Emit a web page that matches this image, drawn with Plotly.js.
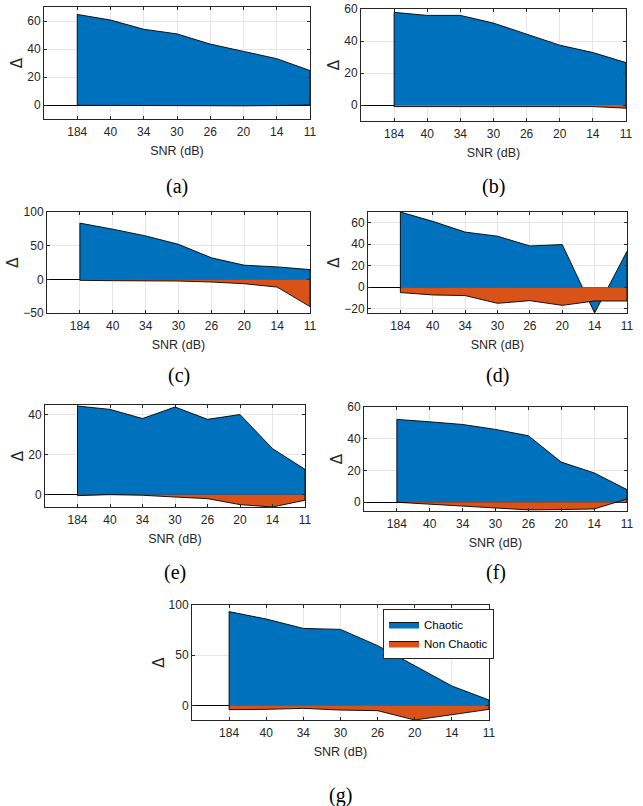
<!DOCTYPE html>
<html>
<head>
<meta charset="utf-8">
<script src="https://cdn.plot.ly/plotly-3.0.1.min.js"></script>
<style>html,body{margin:0;padding:0;background:#fff;}#chart{width:643px;height:806px;}</style>
</head>
<body>
<div id="chart"></div>
<script>
// ---- data ----
var snrLabels = ['184', '40', '34', '30', '26', '20', '14', '11'];
var seriesNames = ['Chaotic', 'Non Chaotic'];
var panelLabels = ['(a)', '(b)', '(c)', '(d)', '(e)', '(f)', '(g)'];

var chaoticA    = [64.7, 60.7, 54.1, 50.8, 43.5, 38.3, 33.1, 24.6];
var nonChaoticA = [-0.2, -0.3, -0.5, -0.7, -0.9, -0.6, -0.4, -0.2];
var chaoticB    = [57.9, 56.0, 56.0, 51.2, 44.5, 37.4, 32.8, 26.5];
var nonChaoticB = [-1.0, -1.0, -1.0, -1.0, -1.0, -1.0, -1.0, -2.0];
var chaoticC    = [83.5, 74.5, 64.5, 52.0, 32.0, 21.0, 18.5, 14.5];
var nonChaoticC = [-1.5, -2.0, -2.0, -2.5, -4.0, -6.5, -11.5, -40.5];
var chaoticD    = [70.0, 61.3, 51.3, 47.5, 38.4, 39.7, -24.0, 33.4];
var nonChaoticD = [-5.0, -7.2, -7.8, -15.0, -12.5, -16.9, -12.8, -12.8];
var chaoticE    = [44.5, 42.8, 38.2, 44.0, 37.8, 40.2, 23.1, 12.7];
var nonChaoticE = [-0.5, 0.0, -0.3, -1.2, -2.0, -5.0, -6.2, -2.8];
var chaoticF    = [52.2, 50.7, 49.0, 45.9, 41.9, 25.3, 18.5, 8.0];
var nonChaoticF = [0.0, -1.2, -2.7, -4.0, -4.8, -4.6, -4.2, 2.1];
var chaoticG    = [93.4, 86.0, 76.7, 75.7, 59.5, 39.5, 19.3, 5.3];
var nonChaoticG = [-4.3, -4.0, -3.0, -4.7, -5.3, -14.6, -9.3, -4.0];

var chaoticAll = [chaoticA, chaoticB, chaoticC, chaoticD, chaoticE, chaoticF, chaoticG];
var nonChaoticAll = [nonChaoticA, nonChaoticB, nonChaoticC, nonChaoticD, nonChaoticE, nonChaoticF, nonChaoticG];

// ---- layout (pixel boxes: left, right, top, bottom) ----
var W = 643, H = 806;
var boxes = [
  [44, 310, 7, 119], [361, 626, 9, 121],
  [47, 310, 212, 313], [368, 627, 212, 313],
  [45, 305, 405, 507], [364, 627, 407, 511],
  [192, 489, 605, 720]
];
var yRanges = [[-10, 70], [-10, 60], [-50, 100], [-24, 70], [-6.2, 45], [-5.5, 60], [-14.6, 100]];
var yTicks = [[0, 20, 40, 60], [0, 20, 40, 60], [-50, 0, 50, 100], [-20, 0, 20, 40, 60], [0, 20, 40], [0, 20, 40, 60], [0, 50, 100]];
var captionY = [186, 186, 376, 376, 572, 572, 795];

var colors = ['#0072BD', '#D95319'];
var tickFont = {family: 'Liberation Sans, Arial, sans-serif', size: 12, color: '#262626'};

var xIdx = snrLabels.map(function (d, i) { return i + 1; });
function poly(vals) {
  return {
    x: [xIdx[0]].concat(xIdx, [xIdx[xIdx.length - 1]]),
    y: [0].concat(vals, [0])
  };
}

var traces = [];
var layout = {
  width: W, height: H,
  margin: {l: 0, r: 0, t: 0, b: 0},
  paper_bgcolor: '#ffffff', plot_bgcolor: '#ffffff',
  showlegend: true,
  legend: {
    x: 383 / W, y: 1 - 609 / H, xanchor: 'left', yanchor: 'top',
    bgcolor: '#ffffff', bordercolor: '#262626', borderwidth: 1,
    font: {family: 'Liberation Sans, Arial, sans-serif', size: 11.5, color: '#000'},
    tracegroupgap: 0, itemwidth: 30
  },
  annotations: []
};

for (var p = 0; p < 7; p++) {
  var sfx = p === 0 ? '' : String(p + 1);
  var b = boxes[p];
  var series = [chaoticAll[p], nonChaoticAll[p]];
  for (var s = 0; s < 2; s++) {
    var pg = poly(series[s]);
    traces.push({
      type: 'scatter', mode: 'lines',
      x: pg.x, y: pg.y,
      fill: 'toself', fillcolor: colors[s],
      line: {color: '#000000', width: 0.9},
      name: seriesNames[s],
      showlegend: p === 6,
      hoverinfo: 'skip',
      xaxis: 'x' + sfx, yaxis: 'y' + sfx
    });
  }
  layout['xaxis' + sfx] = {
    domain: [b[0] / W, b[1] / W],
    anchor: 'y' + sfx,
    range: [0, snrLabels.length],
    tickmode: 'array', tickvals: xIdx, ticktext: snrLabels,
    showgrid: true, gridcolor: '#e6e6e6', gridwidth: 1,
    zeroline: false,
    showline: true, linecolor: '#262626', linewidth: 1, mirror: 'ticks',
    ticks: 'inside', ticklen: 3, tickcolor: '#262626',
    ticklabelstandoff: 2,
    tickfont: tickFont,
    title: {text: 'SNR (dB)', font: {family: 'Liberation Sans, Arial, sans-serif', size: 12.5, color: '#262626'}, standoff: 7},
    fixedrange: true
  };
  layout['yaxis' + sfx] = {
    domain: [1 - b[3] / H, 1 - b[2] / H],
    anchor: 'x' + sfx,
    range: yRanges[p],
    tickmode: 'array', tickvals: yTicks[p],
    showgrid: true, gridcolor: '#e6e6e6', gridwidth: 1,
    zeroline: true, zerolinecolor: '#000000', zerolinewidth: 1,
    showline: true, linecolor: '#262626', linewidth: 1, mirror: 'ticks',
    ticks: 'inside', ticklen: 3, tickcolor: '#262626',
    tickfont: tickFont,
    title: {text: 'Δ', font: {family: 'DejaVu Sans, sans-serif', size: 15, color: '#262626'}, standoff: 0},
    fixedrange: true
  };
  layout.annotations.push({
    xref: 'paper', yref: 'paper',
    x: (b[0] + b[1]) / 2 / W, y: 1 - captionY[p] / H,
    xanchor: 'center', yanchor: 'middle',
    text: panelLabels[p], showarrow: false,
    font: {family: 'Liberation Serif, Times New Roman, serif', size: 20, color: '#000'}
  });
}

Plotly.newPlot('chart', traces, layout, {displayModeBar: false, staticPlot: true});
</script>
</body>
</html>
